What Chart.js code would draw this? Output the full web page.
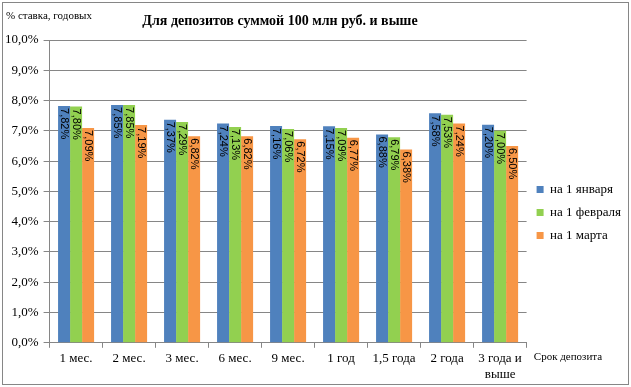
<!DOCTYPE html>
<html>
<head>
<meta charset="utf-8">
<script src="https://cdn.jsdelivr.net/npm/chart.js@4/dist/chart.umd.min.js"></script>
<style>
  body { margin: 0; background: #fff; }
</style>
</head>
<body>
<canvas id="myChart" width="631" height="387"></canvas>
<script>
const labels = ["1 мес.", "2 мес.", "3 мес.", "6 мес.", "9 мес.", "1 год", "1,5 года", "2 года", ["3 года и", "выше"]];
const jan = [7.82, 7.85, 7.37, 7.24, 7.16, 7.15, 6.88, 7.58, 7.20];
const feb = [7.80, 7.85, 7.29, 7.13, 7.06, 7.09, 6.79, 7.53, 7.00];
const mar = [7.09, 7.19, 6.82, 6.82, 6.72, 6.77, 6.38, 7.24, 6.50];
const yTicks = [0, 1, 2, 3, 4, 5, 6, 7, 8, 9, 10];

const serif = "'Liberation Serif', 'Times New Roman', serif";
const fmt = (v, d) => v.toFixed(d).replace(".", ",") + "%";

// фон, рамка, заголовки
const decor = {
  id: "decor",
  beforeDraw(chart) {
    const c = chart.ctx;
    c.save();
    c.fillStyle = "#fff";
    c.fillRect(0, 0, chart.width, chart.height);
    c.strokeStyle = "#868686";
    c.lineWidth = 1;
    c.strokeRect(2.5, 2.5, chart.width - 5, chart.height - 5);
    c.restore();
  },
  afterDraw(chart) {
    const c = chart.ctx;
    c.save();
    c.fillStyle = "#000";
    c.textBaseline = "middle";
    c.font = "11px " + serif;
    c.textAlign = "left";
    c.fillText("% ставка, годовых", 6, 16);
    c.font = "bold 14px " + serif;
    c.textAlign = "center";
    c.fillText("Для депозитов суммой 100 млн руб. и выше", 280, 21);
    c.font = "11px " + serif;
    c.fillText("Срок депозита", 568, 357);
    c.restore();
  }
};

// подписи значений внутри столбцов, повернутые
const barLabels = {
  id: "barLabels",
  afterDatasetsDraw(chart) {
    const c = chart.ctx;
    c.save();
    c.fillStyle = "#000";
    c.font = "11px 'Liberation Sans Narrow', 'Liberation Sans', Arial, sans-serif";
    c.textAlign = "left";
    c.textBaseline = "middle";
    chart.data.datasets.forEach((ds, i) => {
      chart.getDatasetMeta(i).data.forEach((bar, j) => {
        c.save();
        c.translate(bar.x, bar.y + 2);
        c.rotate(Math.PI / 2);
        c.fillText(fmt(ds.data[j], 2), 0, 0);
        c.restore();
      });
    });
    c.restore();
  }
};

const ctx = document.getElementById("myChart");

new Chart(ctx, {
  type: "bar",
  data: {
    labels,
    datasets: [
      { label: "на 1 января", backgroundColor: "#4F81BD", data: jan },
      { label: "на 1 февраля", backgroundColor: "#92D050", data: feb },
      { label: "на 1 марта", backgroundColor: "#F79646", data: mar },
    ],
  },
  options: {
    responsive: false,
    animation: false,
    devicePixelRatio: 1,
    layout: { padding: { top: 40, left: 0, right: 0, bottom: 2 } },
    datasets: { bar: { categoryPercentage: 0.68, barPercentage: 1 } },
    plugins: {
      legend: {
        position: "right",
        labels: {
          boxWidth: 7,
          boxHeight: 7,
          padding: 10,
          color: "#000",
          font: { family: serif, size: 13 },
        },
      },
      tooltip: { enabled: false },
    },
    scales: {
      x: {
        grid: { drawOnChartArea: false, offset: true, tickLength: 5, color: "#868686" },
        border: { color: "#868686" },
        ticks: { color: "#000", font: { family: serif, size: 13 }, maxRotation: 0, padding: 3 },
      },
      y: {
        min: 0,
        max: 10,
        afterBuildTicks(axis) { axis.ticks = yTicks.map(v => ({ value: v })); },
        grid: { color: "#868686", tickLength: 6 },
        border: { color: "#868686" },
        ticks: { color: "#000", font: { family: serif, size: 13 }, callback: v => fmt(v, 1), padding: 5 },
      },
    },
  },
  plugins: [decor, barLabels],
});
</script>
</body>
</html>
